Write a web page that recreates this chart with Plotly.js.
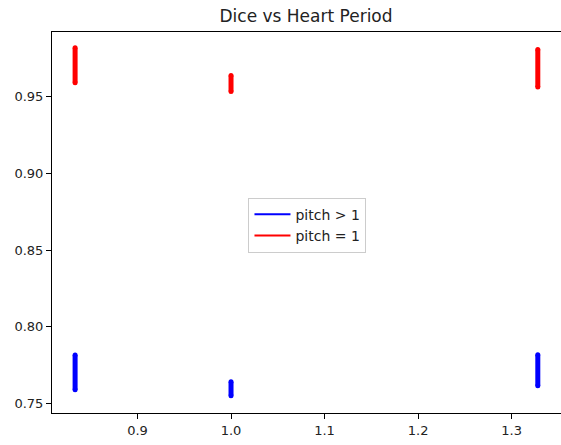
<!DOCTYPE html>
<html>
<head>
<meta charset="utf-8">
<script src="https://cdn.plot.ly/plotly-3.0.1.min.js"></script>
<style>html,body{margin:0;padding:0;background:#fff;}#chart{width:561px;height:445px;}</style>
</head>
<body>
<div id="chart"></div>
<script>
// Heart periods (x) and the Dice range observed at each period
const periods = [0.8333, 1.0, 1.328];
const bluePitchGt1Min = [0.7588, 0.7550, 0.7614];
const bluePitchGt1Max = [0.7815, 0.7640, 0.7817];
const redPitchEq1Min = [0.9593, 0.9535, 0.9564];
const redPitchEq1Max = [0.9820, 0.9639, 0.9809];
const seriesNames = ['pitch > 1', 'pitch = 1'];
const xTicks = [0.9, 1.0, 1.1, 1.2, 1.3];
const xTickText = ['0.9', '1.0', '1.1', '1.2', '1.3'];
const yTicks = [0.75, 0.80, 0.85, 0.90, 0.95];
const yTickText = ['0.75', '0.80', '0.85', '0.90', '0.95'];

function segs(xs, lo, hi) {
  const x = [], y = [];
  xs.forEach((v, i) => { x.push(v, v, null); y.push(lo[i], hi[i], null); });
  return {x, y};
}
const font = 'DejaVu Sans, sans-serif';
const b = segs(periods, bluePitchGt1Min, bluePitchGt1Max);
const r = segs(periods, redPitchEq1Min, redPitchEq1Max);
const traces = [
  {x: b.x, y: b.y, mode: 'lines+markers', line: {color: 'blue', width: 5}, marker: {color: 'blue', size: 5}, showlegend: false, hoverinfo: 'skip'},
  {x: r.x, y: r.y, mode: 'lines+markers', line: {color: 'red', width: 5}, marker: {color: 'red', size: 5}, showlegend: false, hoverinfo: 'skip'},
  {x: [null], y: [null], mode: 'lines', name: seriesNames[0], line: {color: 'blue', width: 2}},
  {x: [null], y: [null], mode: 'lines', name: seriesNames[1], line: {color: 'red', width: 2}}
];
const axisCommon = {
  showgrid: false, zeroline: false, showline: true, linecolor: '#000', linewidth: 1,
  mirror: true, ticks: 'outside', ticklen: 5, tickwidth: 1, tickcolor: '#000',
  tickfont: {family: font, size: 13, color: '#222'}
};
const layout = {
  width: 561, height: 445,
  margin: {l: 52, r: 0, t: 32, b: 32, pad: 0},
  paper_bgcolor: '#fff', plot_bgcolor: '#fff',
  title: {text: 'Dice vs Heart Period', font: {family: font, size: 17, color: '#222'}, x: 0.5455, xanchor: 'center', y: 0.963, yanchor: 'middle'},
  xaxis: Object.assign({}, axisCommon, {range: [0.8086, 1.3528], tickvals: xTicks, ticktext: xTickText}),
  yaxis: Object.assign({}, axisCommon, {range: [0.74366, 0.99235], tickvals: yTicks, ticktext: yTickText}),
  legend: {x: 0.386, y: 0.565, xanchor: 'left', yanchor: 'top', bgcolor: 'rgba(255,255,255,0.8)', bordercolor: '#ccc', borderwidth: 1,
           font: {family: font, size: 14, color: '#222'}, itemwidth: 36, tracegroupgap: 0}
};
Plotly.newPlot('chart', traces, layout, {displayModeBar: false, staticPlot: true});
</script>
</body>
</html>
